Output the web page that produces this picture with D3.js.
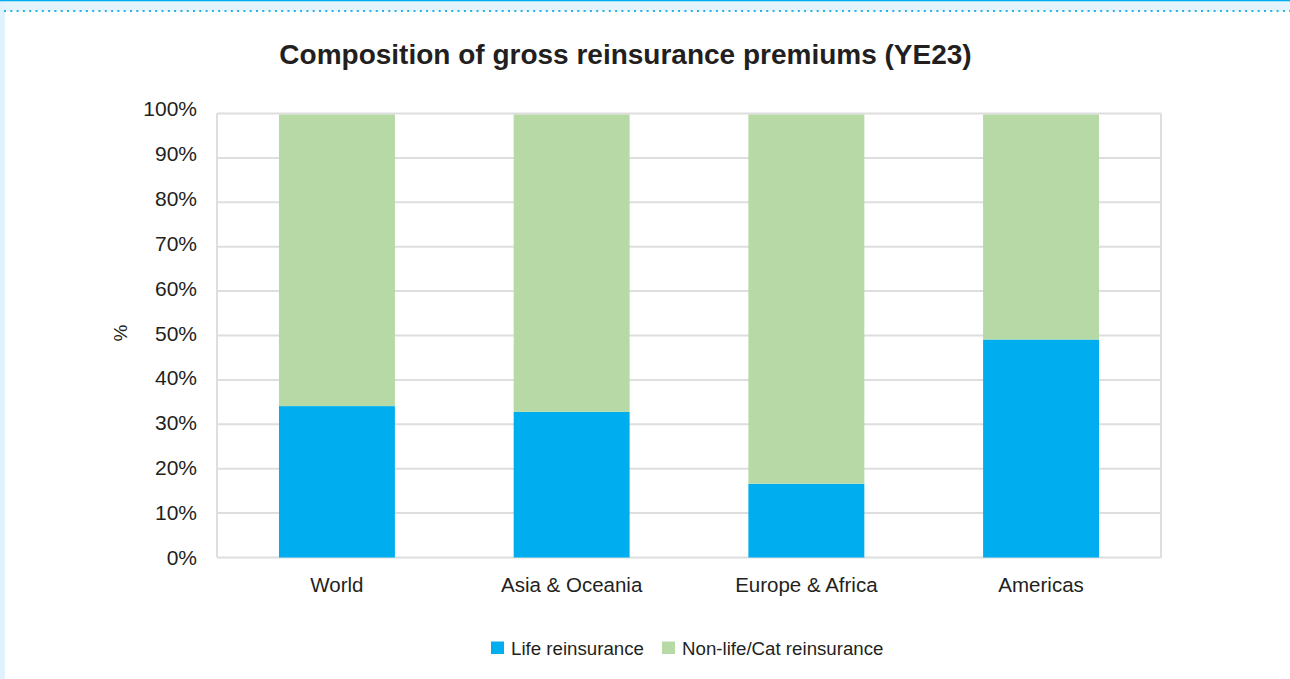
<!DOCTYPE html>
<html><head><meta charset="utf-8">
<script src="https://cdn.jsdelivr.net/npm/d3@7"></script>
<style>
html,body{margin:0;padding:0;background:#fff;}
svg{display:block;font-family:"Liberation Sans",Arial,Helvetica,sans-serif;}
</style></head>
<body>
<svg id="c" width="1290" height="679"></svg>
<script>
const categories = ["World", "Asia & Oceania", "Europe & Africa", "Americas"];
const seriesNames = ["Life reinsurance", "Non-life/Cat reinsurance"];
const lifeValues = [34.1, 32.8, 16.6, 49.1];
const nonLifeValues = [65.9, 67.2, 83.4, 50.9];
const yTicks = [0, 10, 20, 30, 40, 50, 60, 70, 80, 90, 100];
const colors = ["#00aeef", "#b7d9a6"];

const svg = d3.select("#c");
const W = 1290, H = 679;

// decorative frame
svg.append("rect").attr("x",0).attr("y",0).attr("width",W).attr("height",11).attr("fill","#e4f4fc");
svg.append("rect").attr("x",0).attr("y",0).attr("width",5).attr("height",H).attr("fill","#e0f2fd");
svg.append("line").attr("x1",0).attr("x2",W).attr("y1",0.5).attr("y2",0.5).attr("stroke","#00aeef").attr("stroke-width",1.5);
svg.append("line").attr("x1",4).attr("x2",W).attr("y1",11).attr("y2",11)
  .attr("stroke","#29b0e8").attr("stroke-width",2).attr("stroke-dasharray","2,4.3");

const m = {l:217, r:1161, t:113.5, b:557.5};
const x = d3.scaleBand().domain(categories).range([m.l, m.r]).paddingInner(0.506).paddingOuter(0.264);
const y = d3.scaleLinear().domain([0,100]).range([m.b, m.t]);

// gridlines
const g = svg.append("g");
g.selectAll("line.grid").data(yTicks).join("line")
  .attr("x1", m.l).attr("x2", m.r)
  .attr("y1", d=>y(d)).attr("y2", d=>y(d))
  .attr("stroke","#dedede").attr("stroke-width",2);
g.append("line").attr("x1",m.l).attr("x2",m.l).attr("y1",m.t).attr("y2",m.b).attr("stroke","#dedede").attr("stroke-width",2);
g.append("line").attr("x1",m.r).attr("x2",m.r).attr("y1",m.t).attr("y2",m.b).attr("stroke","#dedede").attr("stroke-width",2);

// stacked bars
const rows = categories.map((c,i)=>({cat:c, life:lifeValues[i], nonlife:nonLifeValues[i]}));
const stack = d3.stack().keys(["life","nonlife"])(rows);
svg.append("g").selectAll("g").data(stack).join("g")
  .attr("fill",(d,i)=>colors[i])
  .selectAll("rect").data(d=>d).join("rect")
  .attr("x", d=>x(d.data.cat)).attr("width", x.bandwidth())
  .attr("y", d=>y(d[1])+ (d[1]>=100?1:0)).attr("height", d=>y(d[0])-y(d[1]) - (d[1]>=100?1:0));

// y axis
const yAxis = d3.axisLeft(y).tickValues(yTicks).tickFormat(d=>d+"%").tickSize(0).tickPadding(20);
const ya = svg.append("g").attr("transform",`translate(${m.l},0)`).call(yAxis);
ya.select(".domain").remove();
ya.selectAll("text").attr("font-size",21).attr("fill","#231f20").attr("font-family","Liberation Sans, Arial, sans-serif")
  .attr("dy", d=>(0.36*21 - 0.5 - d*0.05)+"px");

// x axis
const xAxis = d3.axisBottom(x).tickSize(0).tickPadding(20);
const xa = svg.append("g").attr("transform",`translate(0,${m.b})`).call(xAxis);
xa.select(".domain").remove();
xa.selectAll("text").attr("font-size",20.5).attr("fill","#231f20").attr("font-family","Liberation Sans, Arial, sans-serif");

// y label
svg.append("text").attr("transform","translate(127,333) rotate(-90)").attr("text-anchor","middle")
  .attr("font-size",19).attr("fill","#231f20").text("%");

// title
svg.append("text").attr("x",625.5).attr("y",64).attr("text-anchor","middle")
  .attr("font-size",28).attr("font-weight","bold").attr("fill","#231f20")
  .text("Composition of gross reinsurance premiums (YE23)");

// legend
const leg = svg.append("g");
const legX = [491, 662];
seriesNames.forEach((n,i)=>{
  leg.append("rect").attr("x",legX[i]).attr("y",641.5).attr("width",13).attr("height",12.5).attr("fill",colors[i]);
  leg.append("text").attr("x",legX[i]+20).attr("y",655).attr("font-size",18.7).attr("fill","#231f20").text(n);
});
</script>
</body></html>
